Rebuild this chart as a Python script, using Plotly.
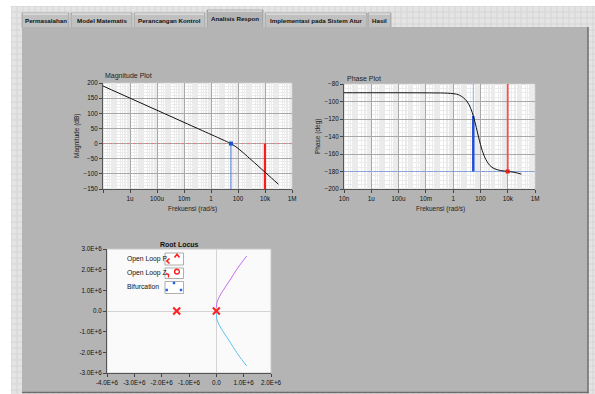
import plotly.graph_objects as go

W, H = 595, 394
def px(x): return x / W
def py(y): return 1 - y / H

# ---------------- data ----------------
freq = [1e-8, 1e-6, 1e-4, 1e-2, 1, 3, 10, 20, 30, 50, 70, 100, 200, 500, 1e3, 3e3, 1e4, 3e4, 1e5]
mag_db = [190, 150, 110, 70, 30, 20.4, 9.9, 3.5, -0.5, -6.3, -10.6, -15.8, -26.9, -42.5, -54.5, -73.5, -94.4, -113.5, -134.4]
phase_deg = [-90, -90, -90, -90.1, -91, -92.9, -99.5, -108.4, -116.6, -129.8, -139.4, -149.0, -163.3, -173.2, -176.6, -178.9, -179.9, -180.9, -183.0]

gain_cross_freq = 30        # rad/s (0 dB crossing)
phase_cross_freq = 1e4      # rad/s (-180 deg crossing)
phase_at_gain_cross = -116.6

bode_xticks = [1e-8, 1e-6, 1e-4, 1e-2, 1, 1e2, 1e4, 1e6]
mag_xlabels = ["", "1u", "100u", "10m", "1", "100", "10k", "1M"]
phase_xlabels = ["10n", "1u", "100u", "10m", "1", "100", "10k", "1M"]
mag_yticks = [200, 150, 100, 50, 0, -50, -100, -150]
phase_yticks = [-80, -100, -120, -140, -160, -180, -200]

pole_re = [-1.45e6, 0.0]
pole_im = [0.0, 0.0]
branch_up_re = [0.0, 0.02e6, 0.11e6, 0.25e6, 0.5e6, 0.74e6, 0.93e6, 1.11e6]
branch_up_im = [0.15e6, 0.4e6, 0.69e6, 1.0e6, 1.5e6, 2.0e6, 2.35e6, 2.66e6]
branch_dn_re = [0.0, 0.02e6, 0.11e6, 0.25e6, 0.5e6, 0.74e6, 0.93e6, 1.11e6]
branch_dn_im = [-0.1e6, -0.4e6, -0.69e6, -1.0e6, -1.5e6, -2.0e6, -2.35e6, -2.66e6]
rl_xticks = [-4e6, -3e6, -2e6, -1e6, 0, 1e6, 2e6]
rl_xlabels = ["-4.0E+6", "-3.0E+6", "-2.0E+6", "-1.0E+6", "0.0", "1.0E+6", "2.0E+6"]
rl_yticks = [3e6, 2e6, 1e6, 0, -1e6, -2e6, -3e6]
rl_ylabels = ["3.0E+6", "2.0E+6", "1.0E+6", "0.0", "-1.0E+6", "-2.0E+6", "-3.0E+6"]

tab_names = ["Permasalahan", "Model Matematis", "Perancangan Kontrol", "Analisis Respon",
             "Implementasi pada Sistem Atur", "Hasil"]
tab_x0 = [22, 71, 134, 207, 265, 368]
tab_x1 = [69, 132, 205, 263, 367, 391]
active_tab = 3

FONT = "Liberation Sans"

fig = go.Figure()

# ---------------- Bode magnitude ----------------
fig.add_trace(go.Scatter(x=[freq[0], 1e6], y=[0, 0], mode="lines",
                         line=dict(color="#f07a7a", width=1, dash="dot"), xaxis="x", yaxis="y", hoverinfo="skip"))
fig.add_trace(go.Scatter(x=[gain_cross_freq, gain_cross_freq], y=[-150, 0], mode="lines",
                         line=dict(color="#4a78e0", width=1), xaxis="x", yaxis="y"))
fig.add_trace(go.Scatter(x=[phase_cross_freq, phase_cross_freq], y=[-150, 0], mode="lines",
                         line=dict(color="#ff1a1a", width=2.2), xaxis="x", yaxis="y"))
fig.add_trace(go.Scatter(x=freq, y=mag_db, mode="lines", line=dict(color="#111111", width=1, shape="spline"),
                         xaxis="x", yaxis="y"))
fig.add_trace(go.Scatter(x=[gain_cross_freq], y=[0], mode="markers",
                         marker=dict(symbol="square", size=4, color="#1f4fd0"), xaxis="x", yaxis="y"))

# ---------------- Bode phase ----------------
fig.add_trace(go.Scatter(x=[freq[0], 1e6], y=[-180, -180], mode="lines",
                         line=dict(color="#7f9ff0", width=1, dash="dot"), xaxis="x2", yaxis="y2"))
fig.add_trace(go.Scatter(x=[gain_cross_freq, gain_cross_freq], y=[phase_at_gain_cross, -80], mode="lines",
                         line=dict(color="#8fb0f5", width=1), xaxis="x2", yaxis="y2"))
fig.add_trace(go.Scatter(x=[gain_cross_freq, gain_cross_freq], y=[-180, phase_at_gain_cross], mode="lines",
                         line=dict(color="#1f4fd8", width=2.5), xaxis="x2", yaxis="y2"))
fig.add_trace(go.Scatter(x=[phase_cross_freq, phase_cross_freq], y=[-80, -180], mode="lines",
                         line=dict(color="#f05050", width=1.8), xaxis="x2", yaxis="y2"))
fig.add_trace(go.Scatter(x=freq, y=phase_deg, mode="lines", line=dict(color="#111111", width=1, shape="spline"),
                         xaxis="x2", yaxis="y2"))
fig.add_trace(go.Scatter(x=[phase_cross_freq], y=[-180], mode="markers",
                         marker=dict(symbol="square", size=4, color="#e02020"), xaxis="x2", yaxis="y2"))

# ---------------- Root locus ----------------
fig.add_trace(go.Scatter(x=branch_up_re, y=branch_up_im, mode="lines",
                         line=dict(color="#c46cf0", width=1, shape="spline"), xaxis="x3", yaxis="y3"))
fig.add_trace(go.Scatter(x=branch_dn_re, y=branch_dn_im, mode="lines",
                         line=dict(color="#5cc4f0", width=1, shape="spline"), xaxis="x3", yaxis="y3"))
fig.add_trace(go.Scatter(x=pole_re, y=pole_im, mode="markers",
                         marker=dict(symbol="x-thin", size=7, color="#ff2020", line=dict(color="#ff2020", width=2)),
                         xaxis="x3", yaxis="y3"))

# ---------------- shapes ----------------
shapes = []
x = 11
while x <= W:
    shapes.append(dict(type="line", xref="paper", yref="paper", x0=px(x), x1=px(x), y0=py(6), y1=0,
                       line=dict(color="#d5d5d5", width=1), layer="below"))
    x += 6
y = 6
while y <= H:
    shapes.append(dict(type="line", xref="paper", yref="paper", x0=px(11), x1=1, y0=py(y), y1=py(y),
                       line=dict(color="#d5d5d5", width=1), layer="below"))
    y += 6
shapes.append(dict(type="rect", xref="paper", yref="paper", x0=0, x1=1, y0=py(6), y1=1,
                   fillcolor="white", line=dict(width=0), layer="below"))
shapes.append(dict(type="rect", xref="paper", yref="paper", x0=0, x1=px(11), y0=0, y1=1,
                   fillcolor="white", line=dict(width=0), layer="below"))

for i, name in enumerate(tab_names):
    top = 10 if i == active_tab else 13
    fill = "#b4b4b4" if i == active_tab else "#c0c0c0"
    shapes.append(dict(type="rect", xref="paper", yref="paper", x0=px(tab_x0[i]), x1=px(tab_x1[i]),
                       y0=py(28), y1=py(top), fillcolor=fill, line=dict(color="#8a8a8a", width=0.6), layer="below"))
    shapes.append(dict(type="line", xref="paper", yref="paper", x0=px(tab_x0[i] + 1), x1=px(tab_x1[i] - 1),
                       y0=py(top + 1), y1=py(top + 1), line=dict(color="#f0f0f0", width=1), layer="below"))

shapes.append(dict(type="rect", xref="paper", yref="paper", x0=px(22), x1=px(588), y0=py(392), y1=py(27),
                   fillcolor="#b4b4b4", line=dict(width=0), layer="below"))
shapes.append(dict(type="line", xref="paper", yref="paper", x0=px(588), x1=px(588), y0=py(392), y1=py(27),
                   line=dict(color="#6e6e6e", width=1.5), layer="below"))
shapes.append(dict(type="line", xref="paper", yref="paper", x0=px(22), x1=px(589), y0=py(392.5), y1=py(392.5),
                   line=dict(color="#6e6e6e", width=1.5), layer="below"))
shapes.append(dict(type="rect", xref="paper", yref="paper", x0=px(tab_x0[active_tab] + 0.5), x1=px(tab_x1[active_tab] - 0.5),
                   y0=py(28), y1=py(26), fillcolor="#b4b4b4", line=dict(width=0), layer="below"))

for (x0, x1, y0, y1, fill) in [(103, 292, 83, 189, "#ffffff"), (344, 535, 84, 189, "#ffffff"),
                               (107, 271, 249, 373, "#fafafa")]:
    shapes.append(dict(type="rect", xref="paper", yref="paper", x0=px(x0), x1=px(x1), y0=py(y1), y1=py(y0),
                       fillcolor=fill, line=dict(color="#c8c8c8", width=1), layer="below"))

for (y0, y1) in [(253, 265), (268, 278.5), (281.5, 293.5)]:
    shapes.append(dict(type="rect", xref="paper", yref="paper", x0=px(165), x1=px(183.5), y0=py(y1), y1=py(y0),
                       fillcolor="#ffffff", line=dict(color="#9a9a9a", width=0.8), layer="above"))
def path(pts):
    return "M " + " L ".join(f"{px(a):.5f},{py(b):.5f}" for a, b in pts)
shapes.append(dict(type="path", xref="paper", yref="paper", path=path([(174.5, 257.5), (177, 254.3), (179.5, 257.5)]),
                   line=dict(color="#ff2020", width=1.6), layer="above"))
shapes.append(dict(type="path", xref="paper", yref="paper", path=path([(169.5, 258.5), (166.8, 261), (169.5, 263.5)]),
                   line=dict(color="#ff2020", width=1.6), layer="above"))
shapes.append(dict(type="circle", xref="paper", yref="paper", x0=px(174.6), x1=px(179.4), y0=py(274), y1=py(269.3),
                   line=dict(color="#ff2020", width=1.4), layer="above"))
shapes.append(dict(type="path", xref="paper", yref="paper", path=path([(166, 273.5), (168.5, 274.5), (168.5, 277.5)]),
                   line=dict(color="#ff2020", width=1.4), layer="above"))
for (cx, cy) in [(166.7, 290), (174, 283), (181, 290)]:
    shapes.append(dict(type="rect", xref="paper", yref="paper", x0=px(cx - 1.2), x1=px(cx + 1.2),
                       y0=py(cy + 1.2), y1=py(cy - 1.2), fillcolor="#1f5fe0", line=dict(width=0), layer="above"))

# ---------------- annotations ----------------
def label(text, x, y, size, xanchor="center", angle=0, color="#222"):
    return dict(text=text, x=px(x), y=py(y), xref="paper", yref="paper", xanchor=xanchor, yanchor="middle",
                textangle=angle, showarrow=False, font=dict(family=FONT, size=size, color=color))

ann = []
for i, name in enumerate(tab_names):
    top = 10 if i == active_tab else 13
    ann.append(label(f"<b>{name}</b>", (tab_x0[i] + tab_x1[i]) / 2, (top + 27) / 2 + 0.5, 6.2, color="#111"))
ann += [
    label("Magnitude Plot", 103, 75.5, 7, xanchor="left"),
    label("Phase Plot", 345, 78.5, 7, xanchor="left"),
    label("<b>Root Locus</b>", 179, 244, 7, color="#111"),
    label("Magnitude (dB)", 77, 136, 6.5, angle=-90),
    label("Phase (deg)", 318, 137, 6.5, angle=-90),
    label("Frekuensi (rad/s)", 192, 209, 6.5),
    label("Frekuensi (rad/s)", 440, 209, 6.5),
]
for t, yy in [("Open Loop P", 258.5), ("Open Loop Z", 273), ("Bifurcation", 286.5)]:
    ann.append(label(t, 125, yy, 6.8, xanchor="left", color="#111"))

tickfont = dict(family=FONT, size=6.3, color="#111")
major = "#a9a9a9"
minorc = "#ebebeb"
def bode_x(dom, labels, anchor):
    return dict(domain=dom, type="log", range=[-8, 6], tickmode="array", tickvals=bode_xticks, ticktext=labels,
                showgrid=True, gridcolor=major, gridwidth=1, ticks="outside", ticklen=3, tickcolor="#444",
                showline=True, linecolor="#555", linewidth=1, zeroline=False, tickfont=tickfont, anchor=anchor,
                automargin=False,
                minor=dict(dtick="D1", showgrid=True, gridcolor=minorc, ticks=""))
def bode_y(dom, rng, vals, mdt, anchor):
    return dict(domain=dom, range=rng, tickmode="array", tickvals=vals, showgrid=True, gridcolor=major,
                ticks="outside", ticklen=3, tickcolor="#444", showline=True, linecolor="#555", linewidth=1,
                zeroline=False, tickfont=tickfont, anchor=anchor, automargin=False,
                minor=dict(dtick=mdt, showgrid=True, gridcolor=minorc, ticks=""))

fig.update_layout(
    template="none",
    width=W, height=H, margin=dict(l=0, r=0, t=0, b=0, pad=0), autosize=False,
    paper_bgcolor="#e4e4e4", plot_bgcolor="rgba(0,0,0,0)", showlegend=False,
    xaxis=bode_x([px(103), px(292)], mag_xlabels, "y"),
    yaxis=bode_y([py(189), py(83)], [-150, 200], mag_yticks, 10, "x"),
    xaxis2=bode_x([px(344), px(535)], phase_xlabels, "y2"),
    yaxis2=bode_y([py(189), py(84)], [-200, -80], phase_yticks, 5, "x2"),
    xaxis3=dict(domain=[px(107), px(271)], range=[-4e6, 2e6], tickmode="array", tickvals=rl_xticks,
                ticktext=rl_xlabels, showgrid=False, zeroline=True, zerolinecolor="#d4d4d4", zerolinewidth=1,
                ticks="outside", ticklen=3, tickcolor="#444", showline=True, linecolor="#555",
                tickfont=tickfont, anchor="y3", automargin=False),
    yaxis3=dict(domain=[py(373), py(249)], range=[-3e6, 3e6], tickmode="array", tickvals=rl_yticks,
                ticktext=rl_ylabels, showgrid=False, zeroline=True, zerolinecolor="#d4d4d4", zerolinewidth=1,
                ticks="outside", ticklen=3, tickcolor="#444", showline=True, linecolor="#555",
                tickfont=tickfont, anchor="x3", automargin=False),
    shapes=shapes, annotations=ann,
)

fig.write_html("out.html", config={"displayModeBar": False},
               post_script="document.body.style.margin='0px';document.body.style.overflow='hidden';")
